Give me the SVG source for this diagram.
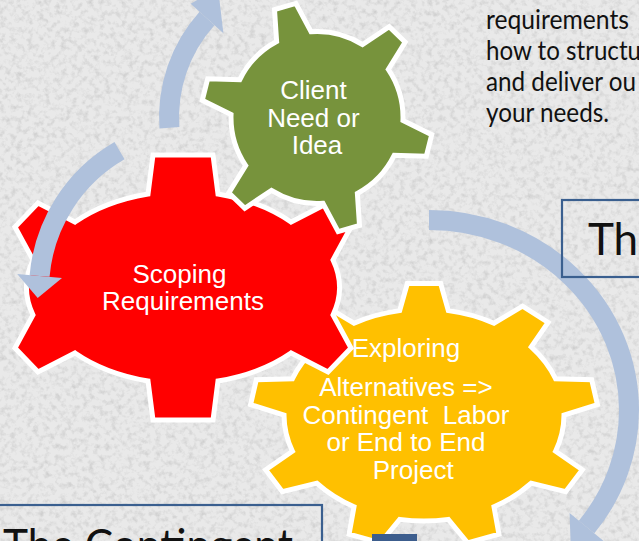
<svg xmlns="http://www.w3.org/2000/svg" width="639" height="541" viewBox="0 0 639 541">
<defs>
  <filter id="grain" x="0" y="0" width="100%" height="100%">
    <feTurbulence type="fractalNoise" baseFrequency="0.18" numOctaves="3" seed="7" result="t"/>
    <feColorMatrix in="t" type="matrix" values="0 0 0 0 0.55  0 0 0 0 0.55  0 0 0 0 0.55  1.6 0 0 0 -0.72"/>
  </filter>
  <style>
    .gear{stroke:#fff;stroke-width:5;stroke-linejoin:miter}
    .gt{font-family:"Liberation Sans",Arial,sans-serif;font-size:26px;fill:#fff;text-anchor:middle}
    .band{fill:none;stroke:#afc1dc;stroke-width:20}
    .head{fill:#afc1dc}
    .box{fill:none;stroke:#3a5f8f;stroke-width:2.2}
    .title{font-family:Lato,"Noto Sans",sans-serif;font-size:44px;fill:#111}
    .body{font-family:Lato,"Noto Sans",sans-serif;font-size:26px;fill:#111}
  </style>
</defs>

<rect width="639" height="541" fill="#e9e9e9"/>
<rect width="639" height="541" filter="url(#grain)"/>

<g id="gear-exploring">
  <path class="gear" fill="#ffc000" d="M 399.69 310.61 L 407.32 283.61 L 440.68 283.61 L 448.31 310.61 A 140 106 0 0 1 494.00 323.20 L 522.56 306.21 L 548.11 322.48 L 531.25 346.86 A 140 106 0 0 1 555.56 378.75 L 591.67 379.72 L 597.46 404.64 L 564.00 415.00 A 140 106 0 0 1 555.56 451.25 L 582.33 469.74 L 565.66 491.65 L 531.25 483.14 A 140 106 0 0 1 494.00 506.80 L 498.91 534.14 L 467.57 542.80 L 448.31 519.39 A 140 106 0 0 1 399.69 519.39 L 380.43 542.80 L 349.09 534.14 L 354.00 506.80 A 140 106 0 0 1 316.75 483.14 L 282.34 491.65 L 265.67 469.74 L 292.44 451.25 A 140 106 0 0 1 284.00 415.00 L 250.54 404.64 L 256.33 379.72 L 292.44 378.75 A 140 106 0 0 1 316.75 346.86 L 299.89 322.48 L 325.44 306.21 L 354.00 323.20 A 140 106 0 0 1 399.69 310.61 Z"/>
  <text class="gt" style="white-space:pre">
    <tspan x="424" y="357">Exploring</tspan>
    <tspan x="424" y="396">Alternatives =&gt;</tspan>
    <tspan x="424" y="424">Contingent  Labor</tspan>
    <tspan x="424" y="451">or End to End</tspan>
    <tspan x="424" y="479">Project</tspan>
  </text>
</g>

<g id="gear-scoping">
  <path class="gear" fill="#ff0000" d="M 153 155 L 213 155 L 218 194 A 151 95 0 0 1 291 222 L 328 203 L 351 227 L 333 260 A 151 95 0 0 1 333 315 L 351 348 L 328 372 L 291 353 A 151 95 0 0 1 218 381 L 213 420 L 153 420 L 148 381 A 151 95 0 0 1 75 353 L 38 372 L 15 348 L 33 315 A 151 95 0 0 1 33 260 L 15 227 L 38 203 L 75 222 A 151 95 0 0 1 148 194 Z"/>
  <text class="gt">
    <tspan x="183" y="283">Scoping</tspan>
    <tspan x="183" y="310">Requirements</tspan>
  </text>
</g>

<g id="gear-client">
  <path class="gear" fill="#77933c" d="M 231.05 114.50 L 202.27 100.35 L 207.65 78.78 L 239.70 79.80 A 86 86 0 0 1 276.63 41.57 L 274.49 9.57 L 295.86 3.44 L 311.00 31.71 A 86 86 0 0 1 362.57 44.57 L 389.21 26.72 L 405.21 42.16 L 388.30 69.41 A 86 86 0 0 1 402.95 120.50 L 431.73 134.65 L 426.35 156.22 L 394.30 155.20 A 86 86 0 0 1 357.37 193.43 L 359.51 225.43 L 338.14 231.56 L 323.00 203.29 A 86 86 0 0 1 271.43 190.43 L 244.79 208.28 L 228.79 192.84 L 245.70 165.59 A 86 86 0 0 1 231.05 114.50 Z"/>
  <text class="gt">
    <tspan x="317" y="99">Client</tspan>
    <tspan x="317" y="127">Need or</tspan>
    <tspan x="317" y="154">Idea</tspan>
  </text>
</g>

<g id="connectors">
  <path class="band" d="M 169.4 127.8 A 148 148 0 0 1 207.0 18.5"/>
  <polygon class="head" points="190.7,3.8 223.4,33.2 218,-12"/>
  <path class="band" d="M 119.5 150.6 A 161 161 0 0 0 39.6 276"/>
  <polygon class="head" points="62.0,277.9 17.2,274.0 37.7,297.9"/>
  <path class="band" d="M 429 220 A 200 190 0 0 1 629 410 A 200 190 0 0 1 586.6 527.0"/>
  <polygon class="head" points="569.6,513.0 603.6,541.0 570.7,546.3"/>
</g>

<g id="text-requirements">
  <text class="body" x="486" y="29" textLength="143" lengthAdjust="spacingAndGlyphs">requirements</text>
  <text class="body" x="486" y="60" textLength="155" lengthAdjust="spacingAndGlyphs">how to structu</text>
  <text class="body" x="486" y="91" textLength="150" lengthAdjust="spacingAndGlyphs">and deliver ou</text>
  <text class="body" x="486" y="122" textLength="123" lengthAdjust="spacingAndGlyphs">your needs.</text>
</g>

<g id="box-th">
  <rect class="box" x="562" y="200" width="90" height="77"/>
  <text class="title" x="588" y="255">Th</text>
</g>

<g id="box-contingent">
  <rect class="box" x="-3" y="505" width="325" height="60"/>
  <text class="title" x="3" y="561" textLength="290" lengthAdjust="spacingAndGlyphs">The Contingent</text>
</g>

<g id="box-dark">
  <rect x="372" y="534" width="45" height="12" fill="#3c5d8d"/>
</g>
</svg>
